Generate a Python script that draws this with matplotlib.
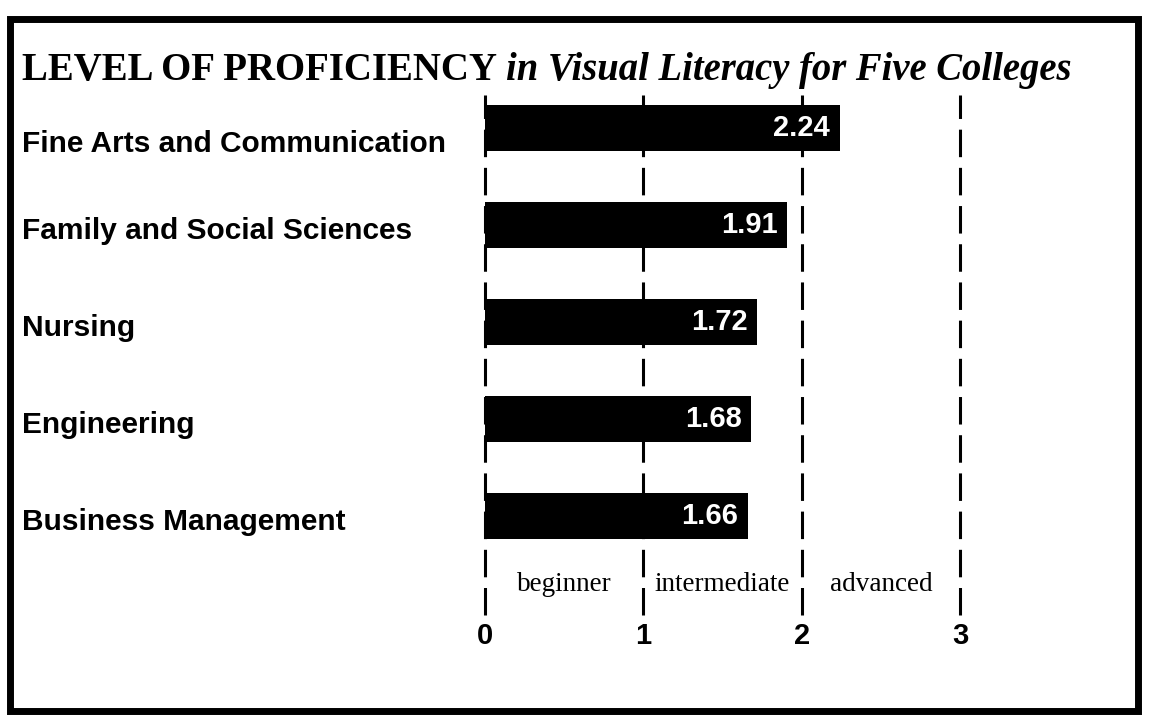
import matplotlib
matplotlib.use("Agg")
import matplotlib.pyplot as plt
import matplotlib.transforms as mtransforms
from matplotlib.patches import Rectangle

colleges = ["Fine Arts and Communication", "Family and Social Sciences",
            "Nursing", "Engineering", "Business Management"]
scores = [2.24, 1.91, 1.72, 1.68, 1.66]
levels = ["beginner", "intermediate", "advanced"]
ticks = [0, 1, 2, 3]

fig = plt.figure(figsize=(11.49, 7.23), dpi=100)
W, H = 1149, 723

# black frame around the whole card
fig.patches.append(Rectangle((10 / W, 12 / H), 1128 / W, 692 / H,
                             transform=fig.transFigure, fill=False,
                             edgecolor="black", linewidth=5))

# axes: x=0 at px 485, x=3 at px 960 ; y from px 95 to 615
ax = fig.add_axes([485 / W, 1 - 615 / H, (960 - 485) / W, (615 - 95) / H])
ax.set_xlim(0, 3)
ax.set_ylim(5.02, -0.34)
for s in ax.spines.values():
    s.set_visible(False)
ax.set_yticks([])
ax.set_xticks(ticks)
ax.set_xticklabels([str(t) for t in ticks], fontsize=21, fontweight="bold",
                   family="Liberation Sans")
ax.tick_params(axis="x", length=0, pad=5)

for t in ticks:
    ax.axvline(t, color="black", linewidth=2.2, dashes=(9, 3.5), zorder=1,
               clip_on=False)

ypos = list(range(len(colleges)))
ax.barh(ypos, scores, height=0.47, color="black", zorder=2)

for y, v in zip(ypos, scores):
    ax.text(v - 0.06, y, f"{v:.2f}", color="white", fontsize=21,
            fontweight="bold", family="Liberation Sans",
            ha="right", va="center", zorder=3)

trans = mtransforms.blended_transform_factory(fig.transFigure, ax.transData)
for y, name in zip(ypos, colleges):
    ax.text(22 / W, y + (0.16 if y == 0 else 0.06), name, transform=trans,
            fontsize=21.5, fontweight="bold", family="Liberation Sans",
            ha="left", va="center")

for i, lab in enumerate(levels):
    ax.text(i + 0.5, 4.71, lab, fontsize=19.5, family="Liberation Serif",
            ha="center", va="center")

t1 = fig.text(22 / W, 1 - 80 / H, "LEVEL OF PROFICIENCY", fontsize=28,
              fontweight="bold", family="Liberation Serif",
              ha="left", va="baseline")
fig.canvas.draw()
bb = t1.get_window_extent()
fig.text(bb.x1 / W + 9 / W, 1 - 80 / H, "in Visual Literacy for Five Colleges",
         fontsize=27.8, fontweight="bold", fontstyle="italic",
         family="Liberation Serif", ha="left", va="baseline")

fig.savefig("out.png", dpi=100)
